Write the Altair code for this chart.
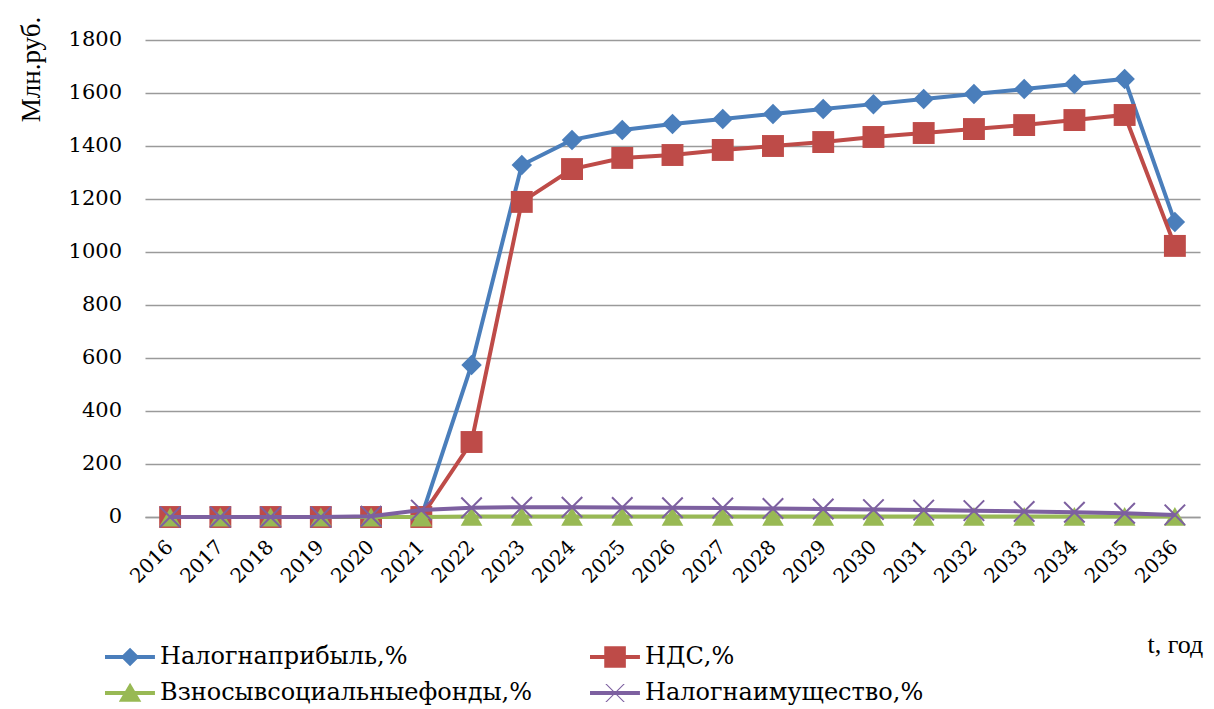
import altair as alt
import pandas as pd

# Categories (years) and series values, Млн.руб.
years = ["2016", "2017", "2018", "2019", "2020", "2021", "2022", "2023", "2024", "2025", "2026",
         "2027", "2028", "2029", "2030", "2031", "2032", "2033", "2034", "2035", "2036"]

series_names = ["Налогнаприбыль,%", "НДС,%", "Взносывсоциальныефонды,%", "Налогнаимущество,%"]

profit_tax = [0, 0, 0, 0, 0, 0, 574, 1328, 1423, 1460, 1483, 1502, 1521, 1540, 1558, 1577,
              1596, 1615, 1634, 1653, 1113]
vat = [0, 0, 0, 0, 0, 0, 283, 1189, 1313, 1355, 1366, 1385, 1400, 1415, 1434, 1449,
       1464, 1479, 1498, 1517, 1023]
social_funds = [0, 0, 0, 0, 0, 0, 2, 2, 2, 2, 2, 2, 2, 2, 2, 2, 2, 2, 2, 2, 2]
property_tax = [0, 0, 0, 0, 3, 26, 35, 37, 37, 36, 35, 34, 32, 30, 28, 26, 24, 21, 18, 14, 8]

y_ticks = [0, 200, 400, 600, 800, 1000, 1200, 1400, 1600, 1800]

colors = ["#4A7EBB", "#BE4B48", "#98B954", "#7D60A0"]

rows = []
for name, vals in zip(series_names, [profit_tax, vat, social_funds, property_tax]):
    for yr, v in zip(years, vals):
        rows.append({"year": yr, "value": v, "series": name})
df = pd.DataFrame(rows)
ticks_df = pd.DataFrame({"value": y_ticks, "label": [str(v) for v in y_ticks]})
years_df = pd.DataFrame({"year": years})

TITLE_FONT = "Liberation Serif"
LABEL_FONT = "DejaVu Serif"
PLOT_W, PLOT_H = 1055, 477

x_scale = alt.Scale(type="point", padding=0.5, domain=years)
y_scale = alt.Scale(domain=[0, 1800], nice=False)

x_enc = alt.X(
    "year:O",
    scale=x_scale,
    axis=alt.Axis(
        labels=False, ticks=False, domain=True, domainColor="#9A9A9A", domainWidth=1.5,
        grid=False, title="t, год", titleFont=TITLE_FONT, titleFontSize=26,
        titleFontWeight="normal", titleColor="black", titleX=1002, titleY=127,
        titleAlign="left", titleBaseline="middle",
    ),
)
y_enc = alt.Y(
    "value:Q",
    scale=y_scale,
    axis=alt.Axis(
        values=y_ticks, labels=False, grid=True, gridColor="#9A9A9A", gridWidth=1.5,
        domain=False, ticks=False, title="Млн.руб.", titleFont=TITLE_FONT, titleFontSize=27,
        titleFontWeight="normal", titleColor="black", titleAngle=-90, titleX=-114, titleY=29,
        titleAlign="center", titleBaseline="middle",
    ),
)

# Series: line plus markers, drawn one series after another
marker_shapes = ["diamond", "square", "triangle-up", "M-1,-1L1,1M-1,1L1,-1"]
marker_sizes = [420, 480, 470, 420]

layers = []
for name, col, shp, sz in zip(series_names, colors, marker_shapes, marker_sizes):
    sub = alt.Chart(df).transform_filter(alt.datum.series == name)
    layers.append(sub.mark_line(color=col, strokeWidth=4).encode(x=x_enc, y=y_enc))
    if shp.startswith("M"):
        pts = sub.mark_point(shape=shp, filled=False, size=sz, color=col, strokeWidth=2, opacity=1)
    else:
        pts = sub.mark_point(shape=shp, filled=True, size=sz, color=col, strokeWidth=0, opacity=1)
    layers.append(pts.encode(x=x_enc, y=y_enc))

# Tick labels
y_labels = alt.Chart(ticks_df).mark_text(
    font=LABEL_FONT, fontSize=21, fontWeight="normal", color="black",
    align="right", baseline="middle"
).encode(y=alt.Y("value:Q", scale=y_scale), x=alt.value(-23), text="label:N")

x_labels = alt.Chart(years_df).mark_text(
    font=LABEL_FONT, fontSize=20, fontWeight="normal", color="black",
    align="right", baseline="middle", angle=315
).encode(x=alt.X("year:O", scale=x_scale), y=alt.value(PLOT_H + 27), text="year:N")

# Legend: line stub with the series marker (unit = 15 px), two columns
line_stub = "M-1,-0.13L2.33,-0.13L2.33,0.13L-1,0.13Z"
legend_paths = [
    line_stub + "M0.67,-0.62L1.29,0L0.67,0.62L0.05,0Z",
    line_stub + "M-0.05,-0.72L1.39,-0.72L1.39,0.72L-0.05,0.72Z",
    line_stub + "M0.67,-0.68L1.42,0.58L-0.08,0.58Z",
    line_stub
    + "M0.02,-0.6L0.12,-0.6L1.32,0.6L1.22,0.6Z"
    + "M1.22,-0.6L1.32,-0.6L0.12,0.6L0.02,0.6Z",
]
legend_cols = [-25, 460]
legend_rows = [617, 653]
legend_slots = [(0, 0), (1, 0), (0, 1), (1, 1)]

legend_layers = []
for name, col, path, (ci, ri) in zip(series_names, colors, legend_paths, legend_slots):
    entry = alt.Chart(pd.DataFrame({"series": [name]}))
    legend_layers.append(
        entry.mark_point(shape=path, filled=True, size=900, color=col, strokeWidth=0, opacity=1)
        .encode(x=alt.value(legend_cols[ci]), y=alt.value(legend_rows[ri]))
    )
    legend_layers.append(
        entry.mark_text(font=LABEL_FONT, fontSize=24, fontWeight="normal", color="black",
                        align="left", baseline="middle")
        .encode(x=alt.value(legend_cols[ci] + 40), y=alt.value(legend_rows[ri]), text="series:N")
    )

chart = (
    alt.layer(*layers, y_labels, x_labels, *legend_layers)
    .properties(
        width=PLOT_W,
        height=PLOT_H,
        autosize=alt.AutoSizeParams(type="none"),
        padding={"left": 145, "top": 40, "right": 14, "bottom": 192},
    )
    .configure(background="white")
    .configure_view(stroke=None)
)

chart.save("out.html", embed_options={"renderer": "svg", "actions": False})
